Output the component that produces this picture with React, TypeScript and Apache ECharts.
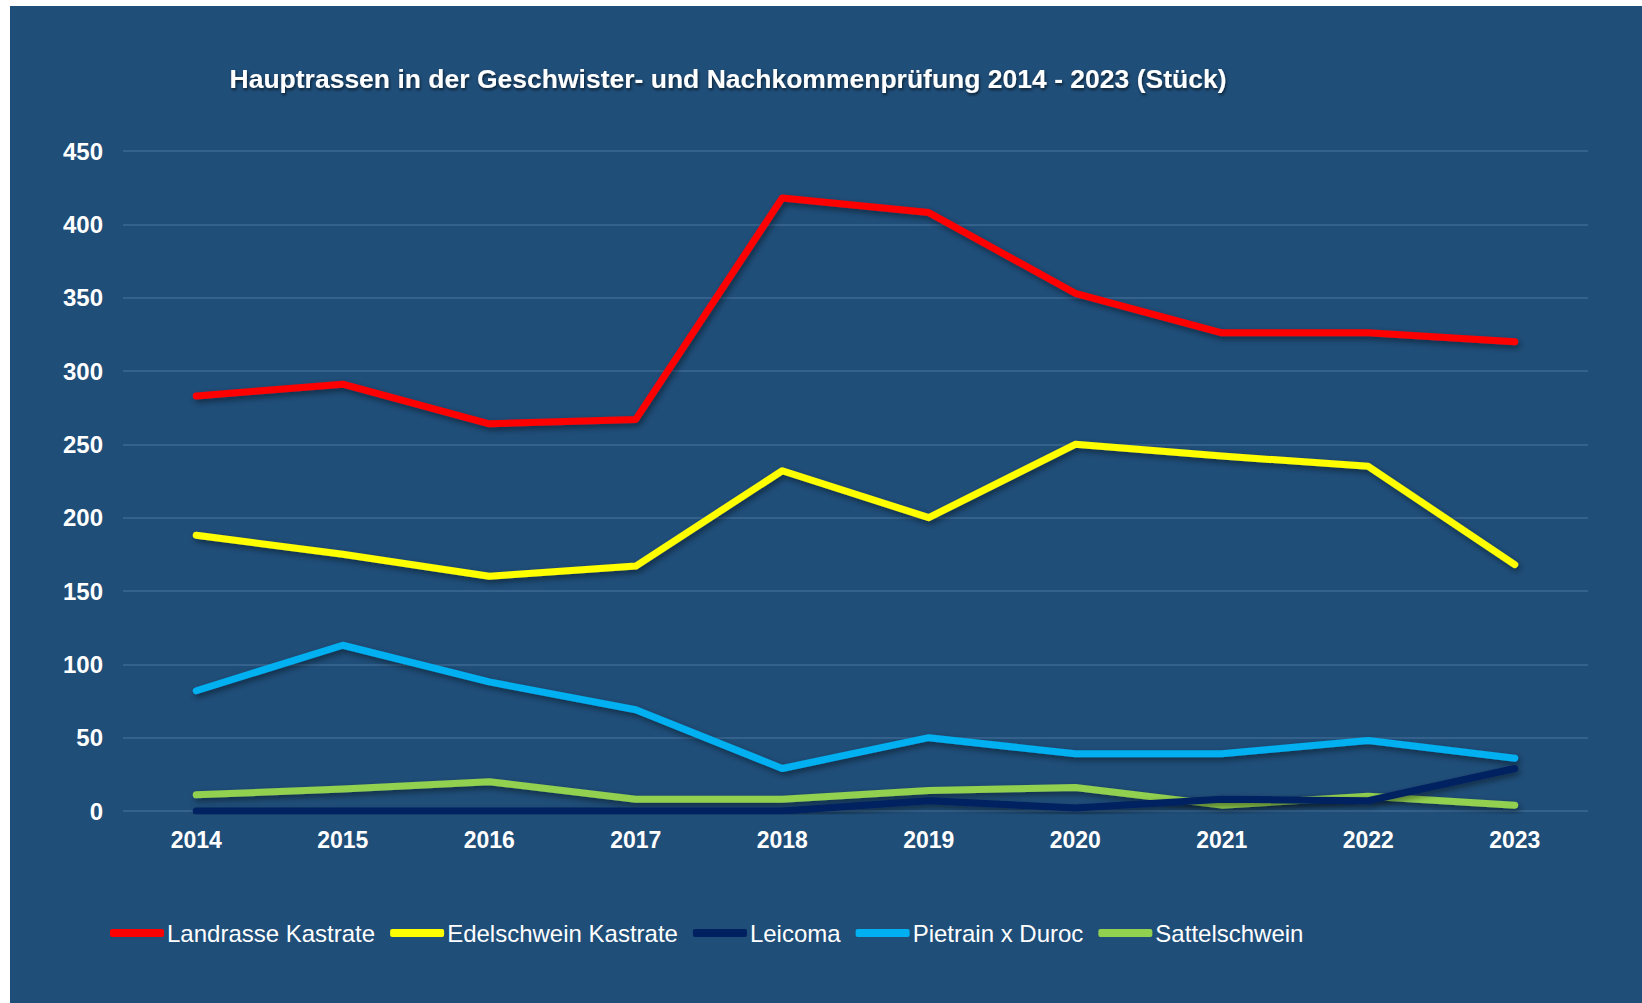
import React, { useEffect, useRef } from "react";
import * as echarts from "echarts";

const years = ["2014", "2015", "2016", "2017", "2018", "2019", "2020", "2021", "2022", "2023"];
const landrasse = [283, 291, 264, 267, 418, 408, 353, 326, 326, 320];
const edelschwein = [188, 175, 160, 167, 232, 200, 250, 242, 235, 168];
const leicoma = [0, 0, 0, 0, 0, 7, 2, 8, 7, 29];
const pietrainDuroc = [82, 113, 88, 69, 29, 50, 39, 39, 48, 36];
const sattelschwein = [11, 15, 20, 8, 8, 14, 16, 4, 10, 4];

const seriesNames = ["Landrasse Kastrate", "Edelschwein Kastrate", "Leicoma", "Pietrain x Duroc", "Sattelschwein"];
const seriesColors = ["#FF0000", "#FFFF00", "#002060", "#00B0F0", "#92D050"];
const seriesData = [landrasse, edelschwein, leicoma, pietrainDuroc, sattelschwein];

const FONT = "'Liberation Sans', Arial, sans-serif";

export default function App() {
  const ref = useRef<HTMLDivElement>(null);
  useEffect(() => {
    document.body.style.margin = "0";
    const chart = echarts.init(ref.current!, undefined, { renderer: "svg" });
    chart.setOption({
      animation: false,
      backgroundColor: "#1F4E79",
      title: {
        text: "Hauptrassen in der Geschwister- und Nachkommenprüfung 2014 - 2023 (Stück)",
        left: 713,
        top: 54,
        textAlign: "center",
        textStyle: {
          color: "#FFFFFF",
          fontFamily: FONT,
          fontWeight: "bold",
          fontSize: 26.5,
          textShadowColor: "rgba(0,0,0,0.6)",
          textShadowBlur: 3,
          textShadowOffsetX: 1,
          textShadowOffsetY: 2,
        },
      },
      legend: {
        left: 100,
        top: 915,
        padding: 0,
        itemWidth: 54,
        itemHeight: 8,
        itemGap: 15,
        icon: "roundRect",
        textStyle: { color: "#FFFFFF", fontFamily: FONT, fontSize: 24, padding: [0, 0, 0, -2] },
        data: seriesNames,
      },
      grid: { left: 113, top: 145, width: 1465, height: 660, containLabel: false },
      xAxis: {
        type: "category",
        data: years,
        boundaryGap: true,
        axisLine: { show: false },
        axisTick: { show: false },
        axisLabel: { color: "#FFFFFF", fontFamily: FONT, fontWeight: "bold", fontSize: 23, margin: 17 },
      },
      yAxis: {
        type: "value",
        min: 0,
        max: 450,
        interval: 50,
        axisLine: { show: false },
        axisTick: { show: false },
        axisLabel: { color: "#FFFFFF", fontFamily: FONT, fontWeight: "bold", fontSize: 24, margin: 20 },
        splitLine: { lineStyle: { color: "#3D6A93", width: 1.5 } },
      },
      series: seriesNames.map((name, i) => ({
        name,
        type: "line",
        data: seriesData[i],
        symbol: "none",
        color: seriesColors[i],
        z: 10 - i,
        lineStyle: {
          color: seriesColors[i],
          width: 7,
          cap: "round",
          join: "round",
          shadowColor: "rgba(0,0,0,0.45)",
          shadowBlur: 6,
          shadowOffsetX: 2,
          shadowOffsetY: 3,
        },
      })),
    });
    return () => chart.dispose();
  }, []);
  return (
    <div style={{ width: 1642, height: 1003, background: "#FFFFFF", position: "relative", overflow: "hidden" }}>
      <div ref={ref} style={{ position: "absolute", left: 10, top: 6, width: 1632, height: 997 }} />
    </div>
  );
}
